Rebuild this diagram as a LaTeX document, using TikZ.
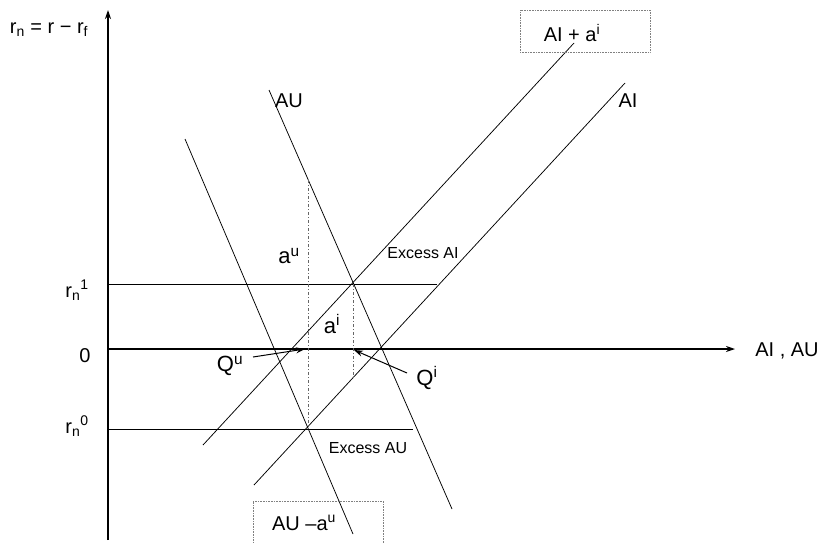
\documentclass[tikz,border=0pt]{standalone}
\usepackage{fontspec}
\setmainfont{Liberation Sans}
\usetikzlibrary{arrows.meta}
\begin{document}
\begin{tikzpicture}[x=1pt,y=-1pt,
  curve/.style={line width=0.75pt},
  axisline/.style={line width=1.1pt,-{Stealth[length=9pt,width=6pt]}},
  level/.style={line width=0.9pt},
  guide/.style={line width=0.9pt, black!60, dash pattern=on 3pt off 2pt on 1pt off 2pt},
  lbl/.style={inner sep=0pt, font=\fontsize{20}{24}\selectfont},
  biglbl/.style={inner sep=0pt, font=\fontsize{22}{26}\selectfont},
  smalllbl/.style={inner sep=0pt, font=\fontsize{16}{19}\selectfont},
  tagbox/.style={draw=gray, densely dotted, line width=0.6pt, inner sep=0pt},
  pointer/.style={line width=1pt, -{Stealth[length=9pt,width=6pt]}}]
\useasboundingbox (0,0) rectangle (822,542);

% axes
\coordinate (ybot) at (108,540);
\coordinate (ytop) at (108,10);
\coordinate (xleft) at (108,349);
\coordinate (xright) at (735,349);
\draw[axisline] (ybot) -- (ytop);
\draw[axisline] (xleft) -- (xright);

% levels
\coordinate (r1a) at (108,284);
\coordinate (r1b) at (437,284);
\coordinate (r0a) at (108,429);
\coordinate (r0b) at (413,429);
\draw[level] (r1a) -- (r1b);
\draw[level] (r0a) -- (r0b);

% curves
\coordinate (aut) at (269,90);
\coordinate (aub) at (452,509);
\coordinate (aumt) at (185,139);
\coordinate (aumb) at (353,534);
\coordinate (aib) at (254,485);
\coordinate (ait) at (625,83);
\coordinate (aipb) at (203,445);
\coordinate (aipt) at (574,43);
\draw[curve] (aut) -- (aub);
\draw[curve] (aumt) -- (aumb);
\draw[curve] (aib) -- (ait);
\draw[curve] (aipb) -- (aipt);

% guides
\coordinate (gut) at (308,180);
\coordinate (gub) at (308,429);
\coordinate (git) at (353,284);
\coordinate (gib) at (353,378);
\draw[guide] (gut) -- (gub);
\draw[guide] (git) -- (gib);

% labels
\node[lbl] (ylab) at (49,30) {r\textsubscript{n} = r − r\textsubscript{f}};
\node[lbl] (r1lab) at (77,290) {r\textsubscript{n}\textsuperscript{1}};
\node[lbl] (zlab) at (85,356) {0};
\node[lbl] (r0lab) at (77,426) {r\textsubscript{n}\textsuperscript{0}};
\node[lbl] (xlab) at (787,351) {AI , AU};
\node[lbl] (aulab) at (289,101) {AU};
\node[lbl] (ailab) at (628,101) {AI};
\node[biglbl] (aulet) at (289,256) {a\textsuperscript{u}};
\node[biglbl] (ailet) at (332,324) {a\textsuperscript{i}};
\node[smalllbl] (exai) at (423,253) {Excess AI};
\node[smalllbl] (exau) at (368,448) {Excess AU};
\node[biglbl] (qu) at (230,366) {Q\textsuperscript{u}};
\node[biglbl] (qi) at (427,378) {Q\textsuperscript{i}};

% boxes
\node[tagbox, minimum width=130pt, minimum height=42pt] (boxai) at (585,31) {};
\node[lbl] (aiplus) at (572,33) {AI + a\textsuperscript{i}};
\node[tagbox, minimum width=130pt, minimum height=48pt] (boxau) at (318,525) {};
\node[lbl] (auminus) at (304,523) {AU –a\textsuperscript{u}};

% pointers
\coordinate (qutail) at (253,357);
\coordinate (qutip) at (305,349);
\coordinate (qitail) at (407,373);
\coordinate (qitip) at (354,350);
\draw[pointer] (qutail) -- (qutip);
\draw[pointer] (qitail) -- (qitip);
\end{tikzpicture}
\end{document}
